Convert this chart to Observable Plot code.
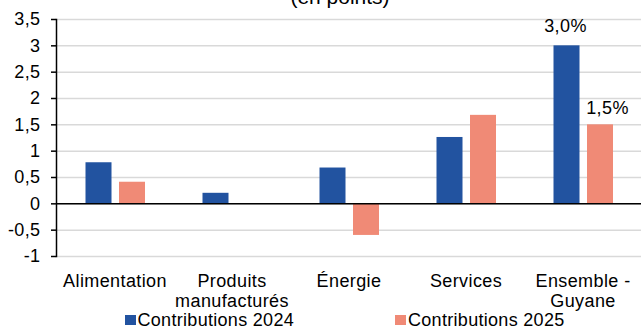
<!DOCTYPE html>
<html>
<head>
<meta charset="utf-8">
<script src="https://cdn.jsdelivr.net/npm/d3@7"></script>
<script src="https://cdn.jsdelivr.net/npm/@observablehq/plot@0.6"></script>
<style>
  html, body { margin: 0; padding: 0; background: #fff; }
  body { font-family: "Liberation Sans", Arial, sans-serif; color: #000; }
  #wrap { position: relative; width: 641px; height: 329px; overflow: hidden; }
  #title { position: absolute; left: 0; width: 680px; top: -14px; text-align: center;
           font-size: 21px; line-height: 21px; white-space: nowrap; }
  #chart { position: absolute; left: 0; top: 0; }
  .item { position: absolute; top: 311px; height: 18px; display: flex; align-items: center;
          font-size: 18px; line-height: 18px; white-space: nowrap; letter-spacing: 0.3px; }
  .sw { width: 11px; height: 10px; margin-right: 2px; }
</style>
</head>
<body>
<div id="wrap">
  <div id="title">(en points)</div>
  <div id="chart"></div>
  <div id="legend"></div>
</div>
<script>
// Contributions to inflation by category (percentage points)
const categories = ["Alimentation", "Produits\nmanufacturés", "Énergie", "Services", "Ensemble -\nGuyane"];
const contrib2024 = [0.78, 0.20, 0.68, 1.26, 3.0];
const contrib2025 = [0.41, 0, -0.6, 1.68, 1.5];
const seriesNames = ["Contributions 2024", "Contributions 2025"];
const seriesColors = ["#2253a0", "#f08a76"];
const yTicks = [-1, -0.5, 0, 0.5, 1, 1.5, 2, 2.5, 3, 3.5];
// Only the overall index carries value labels
const labelled = ["Ensemble -\nGuyane"];

const comma = d => String(d).replace(".", ",").replace("−", "-");
const pct = d => d3.format(".1f")(d).replace(".", ",") + "%";

const rows2024 = categories.map((c, i) => ({category: c, value: contrib2024[i]}));
const rows2025 = categories.map((c, i) => ({category: c, value: contrib2025[i]}));

const chart = Plot.plot({
  width: 641,
  height: 310,
  marginLeft: 56,
  marginRight: 0,
  marginTop: 19,
  marginBottom: 54,
  style: {fontFamily: "'Liberation Sans', Arial, sans-serif", fontSize: "18px", color: "#000", background: "transparent", overflow: "visible", letterSpacing: "0.4px"},
  x: {domain: categories, padding: 0, label: null},
  y: {domain: [-1, 3.5], label: null},
  marks: [
    Plot.gridY(yTicks, {stroke: "#d9d9d9", strokeOpacity: 1, strokeWidth: 1.5}),
    Plot.barY(rows2024, {x: "category", y: "value", fill: seriesColors[0], insetLeft: 29.5, insetRight: 61.5}),
    Plot.barY(rows2025, {x: "category", y: "value", fill: seriesColors[1], insetLeft: 63, insetRight: 28}),
    Plot.ruleY([0], {stroke: "#000", strokeWidth: 1.5}),
    Plot.frame({anchor: "left", stroke: "#000", strokeWidth: 1.5}),
    Plot.axisY({ticks: yTicks, tickFormat: comma, tickSize: 5, tickPadding: 11, fontSize: 18, stroke: "#000", strokeWidth: 1.5, label: null}),
    Plot.axisX({tickSize: 0, tickPadding: 16, fontSize: 18, lineHeight: 1.11, label: null}),
    Plot.text(rows2024.filter(d => labelled.includes(d.category)), {
      x: "category", y: "value", text: d => pct(d.value), fontSize: 18,
      lineAnchor: "bottom", dx: -17.5, dy: -14, fill: "#000"
    }),
    Plot.text(rows2025.filter(d => labelled.includes(d.category)), {
      x: "category", y: "value", text: d => pct(d.value), fontSize: 18,
      lineAnchor: "bottom", dx: 24.5, dy: -11, fill: "#000"
    })
  ]
});
document.getElementById("chart").appendChild(chart);

// Legend row below the chart
const legend = document.getElementById("legend");
const legendLeft = [124.5, 395];
seriesNames.forEach((name, i) => {
  const item = document.createElement("div");
  item.className = "item";
  item.style.left = legendLeft[i] + "px";
  const sw = document.createElement("span");
  sw.className = "sw";
  sw.style.background = seriesColors[i];
  const label = document.createElement("span");
  label.textContent = name;
  item.appendChild(sw);
  item.appendChild(label);
  legend.appendChild(item);
});
</script>
</body>
</html>
